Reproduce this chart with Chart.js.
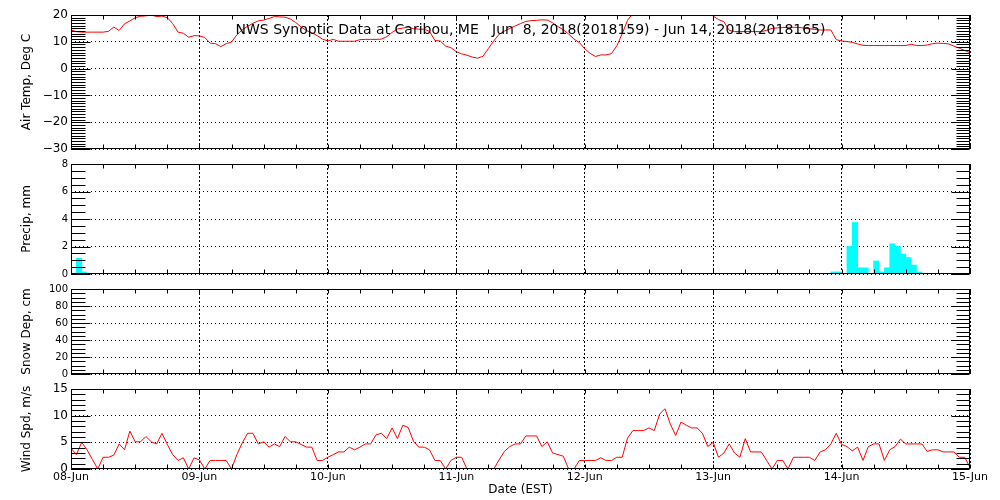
<!DOCTYPE html>
<html>
<head>
<meta charset="utf-8">
<script src="https://cdn.jsdelivr.net/npm/chart.js@4"></script>
<style>
body { margin: 0; background: #fff; }
#wrap { position: relative; width: 1000px; height: 500px; }
#wrap canvas { position: absolute; left: 0; top: 0; }
</style>
</head>
<body>
<div id="wrap">
  <canvas id="cTemp" width="1000" height="500"></canvas>
  <canvas id="cPrecip" width="1000" height="500"></canvas>
  <canvas id="cSnow" width="1000" height="500"></canvas>
  <canvas id="cWind" width="1000" height="500"></canvas>
</div>
<script>
// hours since 08-Jun 00:00 EST, one value per hour (0..168)
var dayLabels = ['08-Jun', '09-Jun', '10-Jun', '11-Jun', '12-Jun', '13-Jun', '14-Jun', '15-Jun'];
var titleText = 'NWS Synoptic Data at Caribou, ME   Jun  8, 2018(2018159) - Jun 14, 2018(2018165)';

var tempC = [
  14.4, 13.8, 13.6, 13.6, 13.6, 13.6, 13.6, 13.9, 15.5, 14.2,
  16.7, 17.8, 19.0, 19.5, 19.7, 20.0, 19.4, 19.6, 19.0, 16.8,
  13.6, 13.2, 11.7, 12.3, 12.2, 11.6, 9.5, 9.3, 8.2, 9.3,
  9.9, 12.6, 14.5, 15.8, 16.9, 17.8, 18.1, 18.7, 19.4, 19.3,
  19.2, 18.5, 17.2, 15.5, 14.2, 13.4, 12.3, 11.0, 10.3, 10.9,
  10.2, 10.2, 10.2, 10.2, 10.8, 10.9, 10.9, 10.9, 11.0, 11.9,
  13.5, 14.8, 15.1, 15.5, 14.9, 14.7, 14.7, 13.9, 10.5, 10.3,
  8.4, 7.8, 6.3, 5.5, 5.0, 4.3, 3.9, 4.6, 7.5, 10.3,
  12.8, 14.0, 15.0, 15.9, 16.8, 17.6, 17.9, 18.0, 18.2, 18.1,
  17.1, 15.7, 14.5, 12.9, 11.0, 9.7, 7.4, 5.7, 4.5, 5.1,
  5.1, 5.6, 8.5, 13.0, 18.0, 20.6, 22.5, 23.8, 24.6, 25.0,
  25.3, 25.2, 24.9, 24.6, 24.0, 23.4, 22.7, 22.2, 21.8, 21.0,
  19.6, 18.3, 17.5, 14.3, 13.8, 13.8, 13.8, 13.8, 13.8, 13.8,
  14.3, 15.0, 15.2, 15.3, 15.4, 15.4, 15.4, 15.1, 14.9, 14.6,
  14.4, 14.4, 14.4, 10.8, 10.3, 10.1, 9.8, 9.2, 8.7, 8.6,
  8.6, 8.6, 8.6, 8.6, 8.6, 8.6, 8.6, 9.1, 8.6, 8.6,
  8.8, 9.3, 9.5, 9.4, 9.2, 8.4, 7.6, 6.8, 5.9
];

// hourly precipitation: bar covers [hour, hour+1]
var precipHour = [1, 2, 142, 143, 145, 146, 147, 148, 150, 151, 152, 153, 154, 155, 156, 157, 158];
var precipMm = [1.15, 0.15, 0.15, 0.15, 2.0, 3.75, 0.45, 0.45, 0.95, 0.15, 0.45, 2.2, 2.0, 1.45, 1.2, 0.65, 0.15];

// no snow depth reported
var snowCm = [];

var windMs = [
  3.9, 2.7, 5.0, 3.6, 1.8, 0, 2.2, 2.2, 2.6, 4.7,
  3.6, 7.1, 5.1, 5.1, 6.1, 5.1, 4.7, 6.7, 4.6, 2.7,
  1.6, 2.1, 0, 2.1, 1.7, 0, 1.6, 1.6, 1.6, 1.6,
  0, 2.7, 4.9, 6.7, 6.7, 4.7, 5.1, 4.1, 4.7, 4.2,
  6.1, 5.1, 5.1, 4.6, 4.1, 4.1, 1.6, 1.6, 2.2, 2.7,
  3.2, 3.2, 4.1, 3.6, 4.1, 4.7, 4.7, 6.4, 6.7, 5.7,
  7.7, 5.7, 8.2, 7.8, 5.2, 4.1, 4.1, 3.6, 1.6, 1.6,
  0, 1.6, 2.2, 2.2, 0, 0, 0, 0, 0, 0,
  1.7, 3.3, 4.2, 4.7, 4.7, 6.2, 6.2, 6.2, 4.2, 5.1,
  3.0, 2.7, 2.4, 0, 0, 1.6, 1.6, 1.6, 1.6, 2.1,
  1.6, 1.6, 2.2, 2.2, 5.8, 7.2, 7.2, 7.2, 7.7, 7.2,
  10.3, 11.3, 8.4, 6.3, 8.8, 8.2, 7.7, 7.7, 6.7, 4.2,
  5.0, 2.2, 3.0, 4.7, 3.0, 2.2, 5.7, 3.2, 3.2, 3.2,
  1.6, 0, 1.6, 1.6, 0, 2.2, 2.2, 2.2, 2.2, 1.6,
  3.2, 3.6, 4.7, 6.7, 4.6, 4.2, 3.4, 4.1, 1.6, 4.2,
  4.7, 4.7, 1.6, 3.6, 4.2, 5.6, 4.7, 4.7, 4.7, 4.7,
  3.3, 3.6, 3.6, 3.2, 3.2, 3.2, 2.2, 2.2, 0.3
];

var FONT = 'DejaVu Sans';

// frame + inward minor/major ticks (IDL look), optional title
var panelFrame = {
  id: 'panelFrame',
  afterDatasetsDraw: function(chart, args, o) {
    var ctx = chart.ctx, a = chart.chartArea;
    var xs = chart.scales.x, ys = chart.scales.y;
    var L = Math.round(a.left) + 0.5, R = Math.round(a.right) - 0.5;
    var T = Math.round(a.top) + 0.5, B = Math.round(a.bottom) - 0.5;
    ctx.save();
    ctx.strokeStyle = '#000';
    ctx.lineWidth = 1;
    ctx.beginPath();
    var n = Math.round((ys.max - ys.min) / o.yMinor);
    for (var i = 0; i <= n; i++) {
      var v = ys.min + i * o.yMinor;
      var y = Math.round(ys.getPixelForValue(v)) + 0.5;
      var major = Math.abs(v / o.yMajor - Math.round(v / o.yMajor)) < 1e-6;
      ctx.moveTo(L, y); ctx.lineTo(L + (major ? 19 : 14), y);
      ctx.moveTo(R, y); ctx.lineTo(R - (major ? 18 : 13), y);
    }
    for (var h = xs.min; h <= xs.max; h += 6) {
      var x = Math.round(xs.getPixelForValue(h)) + 0.5;
      ctx.moveTo(x, T); ctx.lineTo(x, T + 4);
      ctx.moveTo(x, B); ctx.lineTo(x, B - 4);
    }
    ctx.stroke();
    ctx.strokeRect(L, T, R - L, B - T);
    if (o.title) {
      ctx.fillStyle = '#000';
      ctx.font = '14px "' + FONT + '"';
      ctx.textAlign = 'center';
      ctx.textBaseline = 'middle';
      ctx.fillText(o.title, (a.left + a.right) / 2 + 10, a.top + 15);
    }
    ctx.restore();
  }
};

function xAxis(bottom) {
  return {
    type: 'linear', min: 0, max: 168, offset: false,
    afterFit: function(s) { s.height = bottom ? 31 : 0; },
    ticks: {
      display: bottom, stepSize: 24, autoSkip: false, maxRotation: 0,
      color: '#000', padding: 2, font: { family: FONT, size: 11 },
      callback: function(v) { return dayLabels[v / 24]; }
    },
    grid: { color: '#000', lineWidth: 1, drawTicks: false, offset: false },
    border: { display: false, dash: [2, 2] },
    title: {
      display: bottom, text: 'Date (EST)', color: '#000',
      font: { family: FONT, size: 12 }, padding: { top: 0, bottom: 3 }
    }
  };
}

function yAxis(min, max, step, label, size) {
  return {
    min: min, max: max,
    afterFit: function(s) { s.width = 71; },
    ticks: {
      stepSize: step, color: '#000', padding: 3, font: { family: FONT, size: size },
      callback: function(v) { return String(v).replace('-', '\u2212'); }
    },
    grid: { color: '#000', lineWidth: 1, drawTicks: false },
    border: { display: false, dash: [1, 3] },
    title: {
      display: true, text: label, color: '#000',
      font: { family: FONT, size: 12 }, padding: { top: 20, bottom: 0 }
    }
  };
}

function makePanel(id, type, datasets, top, bottomPad, bottom, y, frameOpts) {
  return new Chart(document.getElementById(id), {
    type: type,
    data: { datasets: datasets },
    options: {
      responsive: false,
      animation: false,
      events: [],
      layout: { padding: { top: top, bottom: bottomPad, left: 0, right: 30 } },
      plugins: { legend: { display: false }, tooltip: { enabled: false }, panelFrame: frameOpts },
      scales: { x: xAxis(bottom), y: y }
    },
    plugins: [panelFrame]
  });
}

function series(arr) {
  return arr.map(function(v, i) { return { x: i, y: v }; });
}

function redLine(arr) {
  return {
    data: series(arr), borderColor: '#ff0000', borderWidth: 1,
    pointRadius: 0, tension: 0, fill: false, clip: 0
  };
}

makePanel('cTemp', 'line', [redLine(tempC)], 15, 351, false,
  yAxis(-30, 20, 10, 'Air Temp, Deg C', 12),
  { yMinor: 1, yMajor: 10, title: titleText });

makePanel('cPrecip', 'bar', [{
    data: precipHour.map(function(h, i) { return { x: h + 0.5, y: precipMm[i] }; }),
    backgroundColor: '#00ffff', borderWidth: 0,
    barPercentage: 1, categoryPercentage: 1
  }], 164, 226, false,
  yAxis(0, 8, 2, 'Precip, mm', 10),
  { yMinor: 0.5, yMajor: 2 });

makePanel('cSnow', 'line', [redLine(snowCm)], 289, 126, false,
  yAxis(0, 100, 20, 'Snow Dep, cm', 10),
  { yMinor: 5, yMajor: 20 });

makePanel('cWind', 'line', [redLine(windMs)], 389, 0, true,
  yAxis(0, 15, 5, 'Wind Spd, m/s', 12),
  { yMinor: 1, yMajor: 5 });
</script>
</body>
</html>
